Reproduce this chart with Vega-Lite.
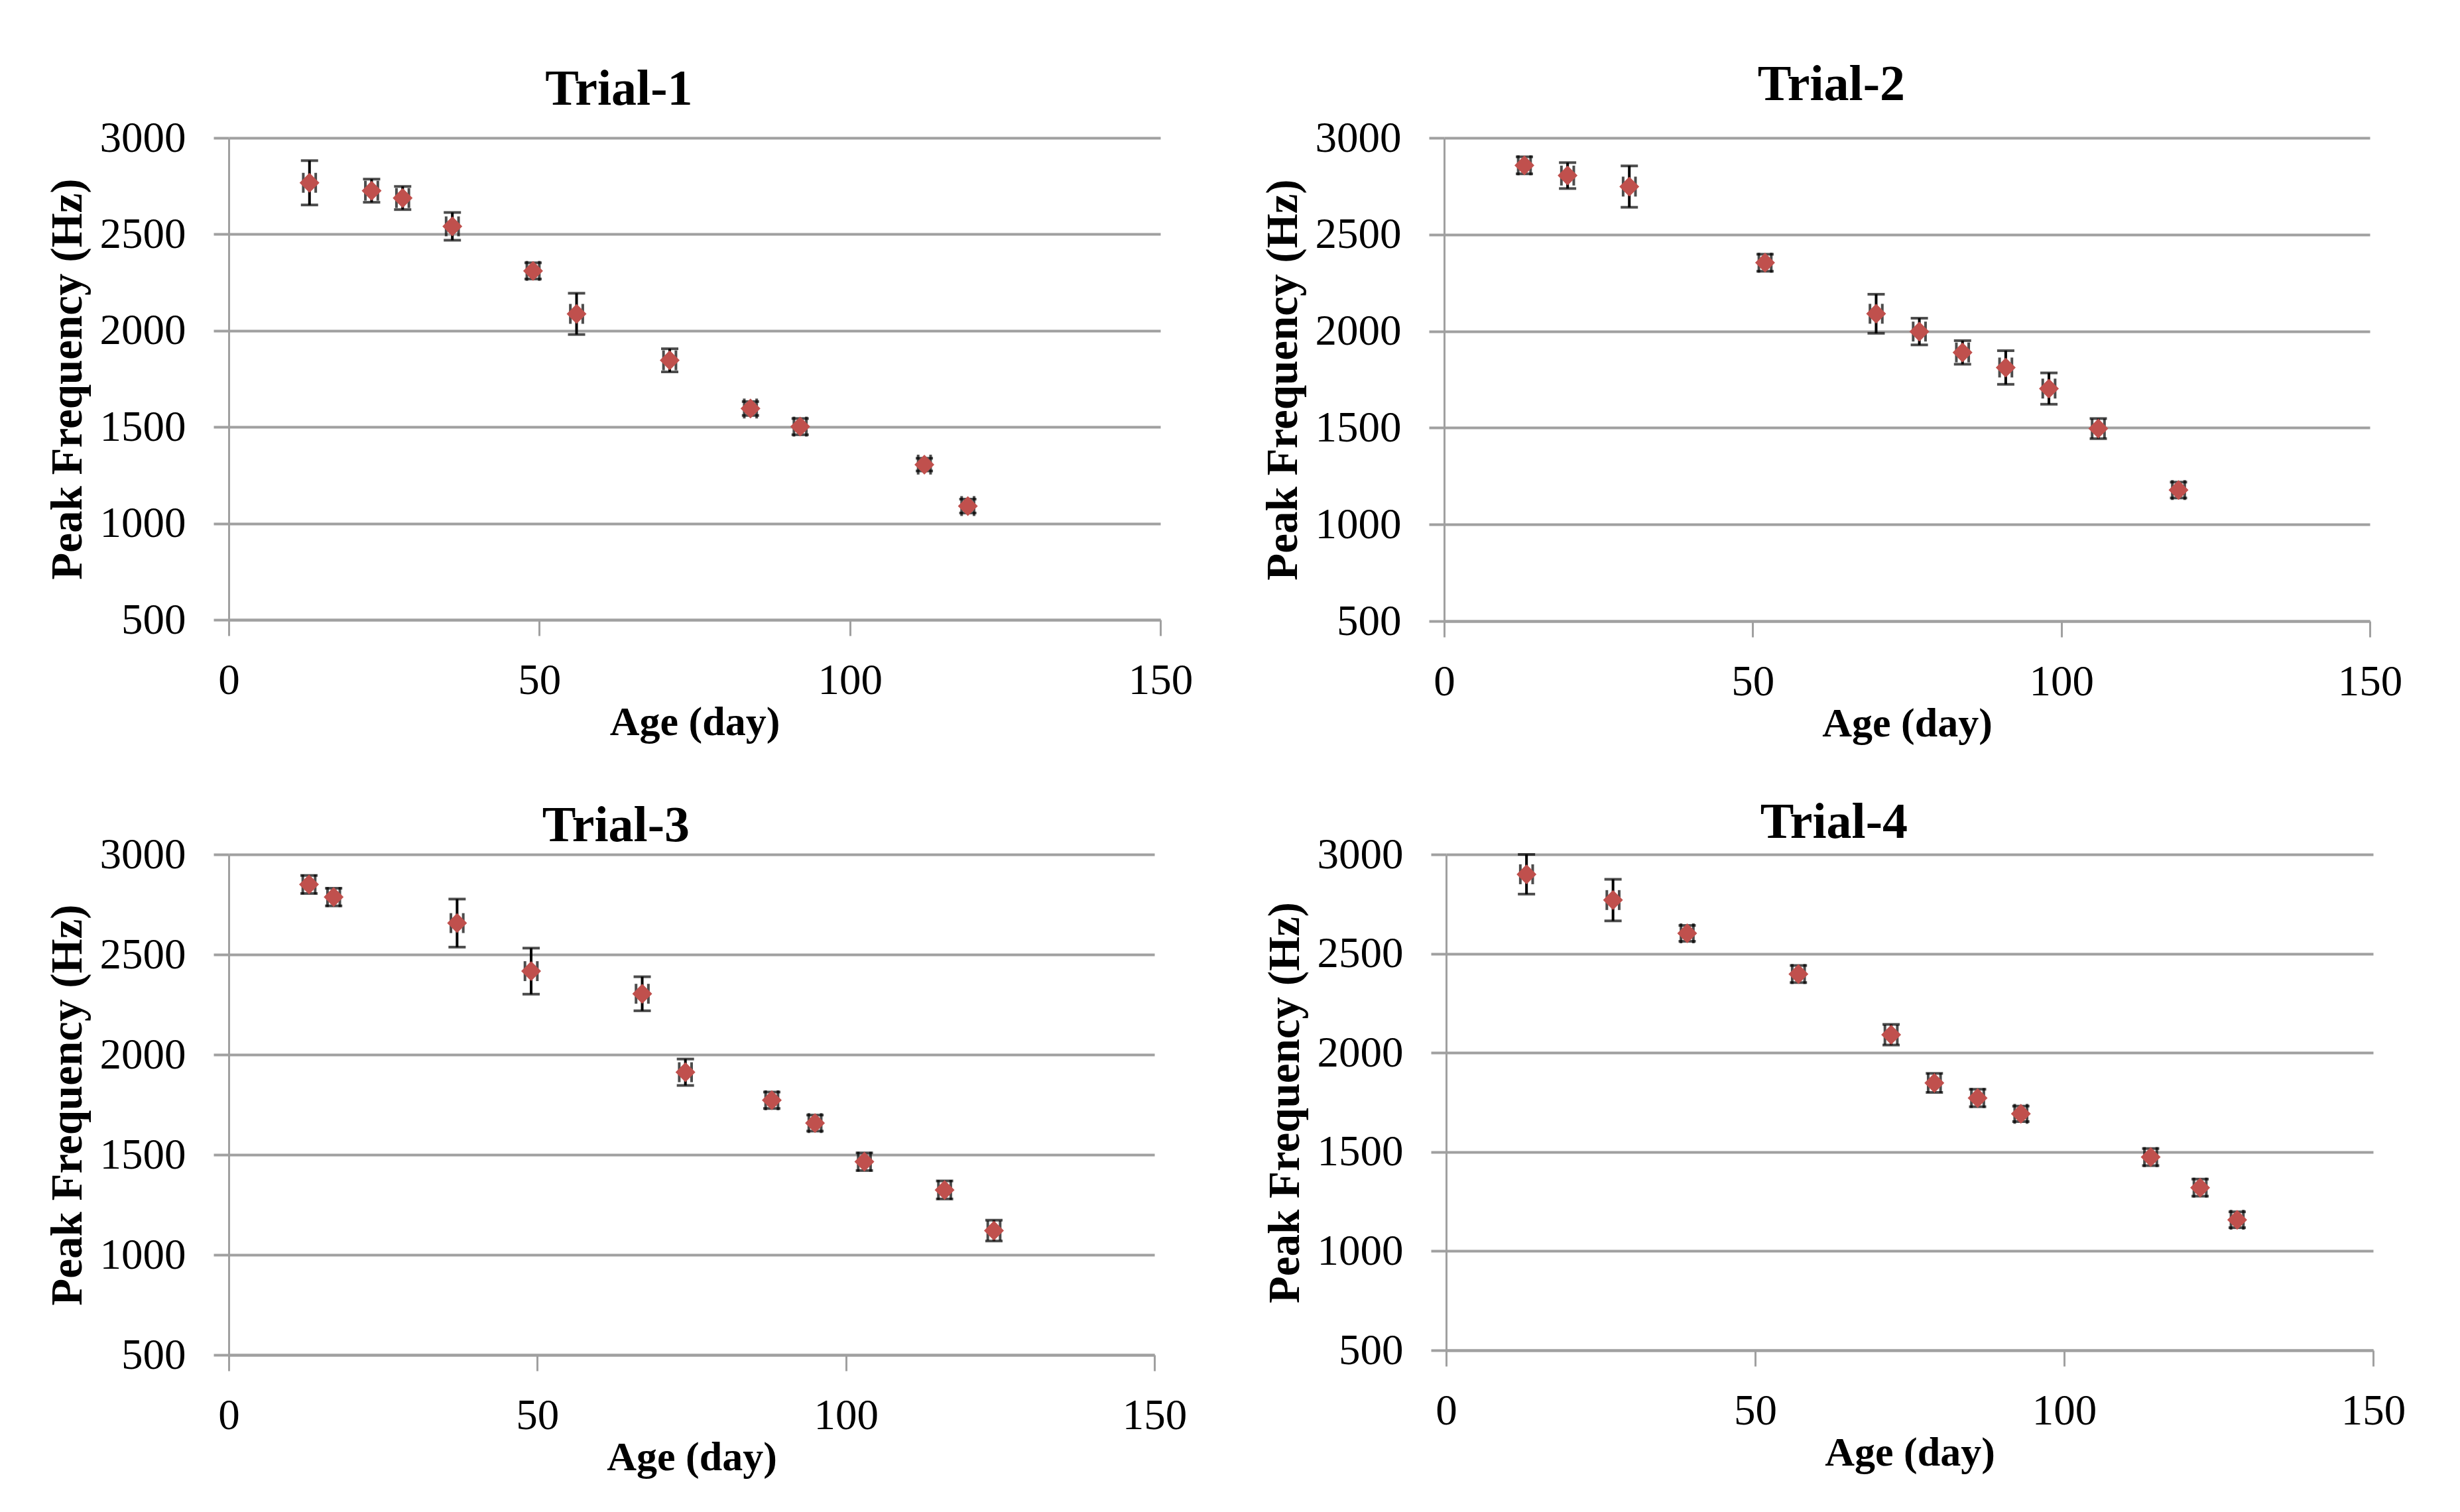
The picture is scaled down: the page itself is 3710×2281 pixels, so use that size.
{
  "$schema": "https://vega.github.io/schema/vega-lite/v6.json",
  "background": "white",
  "padding": {"left": 68, "top": 90, "right": 20, "bottom": 20},
  "config": {
    "font": "Liberation Serif",
    "view": {"stroke": null},
    "title": {"font": "Liberation Serif", "fontSize": 76, "fontWeight": "bold", "color": "black", "frame": "bounds", "anchor": "middle"},
    "axisX": {
      "grid": false, "labelOverlap": false, "labelFlush": false, "format": "d",
      "domainColor": "#a0a0a0", "domainWidth": 4, "tickColor": "#a0a0a0", "tickWidth": 3, "tickSize": 24,
      "labelPadding": 36, "labelFontSize": 65, "labelColor": "black",
      "titleFontSize": 62, "titleFontWeight": "bold", "titleColor": "black", "titlePadding": 0
    },
    "axisY": {
      "grid": true, "gridColor": "#a0a0a0", "gridWidth": 4, "labelOverlap": false, "labelFlush": false, "format": "d",
      "domainColor": "#a0a0a0", "domainWidth": 3, "tickColor": "#a0a0a0", "tickWidth": 4, "tickSize": 23,
      "labelPadding": 42, "labelFontSize": 65, "labelColor": "black",
      "titleFontSize": 67, "titleFontWeight": "bold", "titleColor": "black", "titlePadding": 14
    }
  },
  "data": {"values": [
    {"trial": "Trial-1", "age": 13, "freq": 2767, "err": 115, "xerr": 1},
    {"trial": "Trial-1", "age": 23, "freq": 2726, "err": 60, "xerr": 1},
    {"trial": "Trial-1", "age": 28, "freq": 2688, "err": 60, "xerr": 1},
    {"trial": "Trial-1", "age": 36, "freq": 2541, "err": 72, "xerr": 1},
    {"trial": "Trial-1", "age": 49, "freq": 2310, "err": 42, "xerr": 1},
    {"trial": "Trial-1", "age": 56, "freq": 2087, "err": 107, "xerr": 1},
    {"trial": "Trial-1", "age": 71, "freq": 1846, "err": 60, "xerr": 1},
    {"trial": "Trial-1", "age": 84, "freq": 1596, "err": 36, "xerr": 1},
    {"trial": "Trial-1", "age": 92, "freq": 1502, "err": 42, "xerr": 1},
    {"trial": "Trial-1", "age": 112, "freq": 1305, "err": 33, "xerr": 1},
    {"trial": "Trial-1", "age": 119, "freq": 1090, "err": 36, "xerr": 1},
    {"trial": "Trial-2", "age": 13, "freq": 2858, "err": 44, "xerr": 1},
    {"trial": "Trial-2", "age": 20, "freq": 2805, "err": 67, "xerr": 1},
    {"trial": "Trial-2", "age": 30, "freq": 2748, "err": 107, "xerr": 1},
    {"trial": "Trial-2", "age": 52, "freq": 2354, "err": 44, "xerr": 1},
    {"trial": "Trial-2", "age": 70, "freq": 2090, "err": 101, "xerr": 1},
    {"trial": "Trial-2", "age": 77, "freq": 1998, "err": 69, "xerr": 1},
    {"trial": "Trial-2", "age": 84, "freq": 1890, "err": 61, "xerr": 1},
    {"trial": "Trial-2", "age": 91, "freq": 1812, "err": 87, "xerr": 1},
    {"trial": "Trial-2", "age": 98, "freq": 1703, "err": 81, "xerr": 1},
    {"trial": "Trial-2", "age": 106, "freq": 1496, "err": 52, "xerr": 1},
    {"trial": "Trial-2", "age": 119, "freq": 1178, "err": 41, "xerr": 1},
    {"trial": "Trial-3", "age": 13, "freq": 2850, "err": 45, "xerr": 1},
    {"trial": "Trial-3", "age": 17, "freq": 2787, "err": 44, "xerr": 1},
    {"trial": "Trial-3", "age": 37, "freq": 2657, "err": 120, "xerr": 1},
    {"trial": "Trial-3", "age": 49, "freq": 2417, "err": 115, "xerr": 1},
    {"trial": "Trial-3", "age": 67, "freq": 2304, "err": 85, "xerr": 1},
    {"trial": "Trial-3", "age": 74, "freq": 1912, "err": 66, "xerr": 1},
    {"trial": "Trial-3", "age": 88, "freq": 1772, "err": 41, "xerr": 1},
    {"trial": "Trial-3", "age": 95, "freq": 1658, "err": 40, "xerr": 1},
    {"trial": "Trial-3", "age": 103, "freq": 1465, "err": 44, "xerr": 1},
    {"trial": "Trial-3", "age": 116, "freq": 1324, "err": 45, "xerr": 1},
    {"trial": "Trial-3", "age": 124, "freq": 1121, "err": 52, "xerr": 1},
    {"trial": "Trial-4", "age": 13, "freq": 2900, "err": 100, "xerr": 1},
    {"trial": "Trial-4", "age": 27, "freq": 2770, "err": 105, "xerr": 1},
    {"trial": "Trial-4", "age": 39, "freq": 2602, "err": 40, "xerr": 1},
    {"trial": "Trial-4", "age": 57, "freq": 2397, "err": 43, "xerr": 1},
    {"trial": "Trial-4", "age": 72, "freq": 2091, "err": 52, "xerr": 1},
    {"trial": "Trial-4", "age": 79, "freq": 1848, "err": 48, "xerr": 1},
    {"trial": "Trial-4", "age": 86, "freq": 1772, "err": 44, "xerr": 1},
    {"trial": "Trial-4", "age": 93, "freq": 1692, "err": 39, "xerr": 1},
    {"trial": "Trial-4", "age": 114, "freq": 1474, "err": 43, "xerr": 1},
    {"trial": "Trial-4", "age": 122, "freq": 1320, "err": 43, "xerr": 1},
    {"trial": "Trial-4", "age": 128, "freq": 1158, "err": 40, "xerr": 1}
  ]},
  "vconcat": [
    {
      "spacing": 102,
      "hconcat": [
        {
          "title": {"text": "Trial-1", "offset": 2},
          "width": 1405, "height": 727,
          "transform": [{"filter": "datum.trial == 'Trial-1'"}],
          "encoding": {
            "x": {"field": "age", "type": "quantitative", "scale": {"domain": [0, 150], "nice": false}, "title": "Age (day)", "axis": {"values": [0, 50, 100, 150]}},
            "y": {"field": "freq", "type": "quantitative", "scale": {"domain": [500, 3000], "nice": false, "zero": false}, "title": "Peak Frequency (Hz)", "axis": {"values": [500, 1000, 1500, 2000, 2500, 3000]}}
          },
          "layer": [
            {"mark": {"type": "errorbar", "color": "black", "thickness": 4, "ticks": {"size": 26, "strokeWidth": 4}}, "encoding": {"yError": {"field": "err"}}},
            {"mark": {"type": "errorbar", "color": "black", "thickness": 4, "ticks": {"size": 30, "strokeWidth": 4}}, "encoding": {"xError": {"field": "xerr"}}},
            {"mark": {"type": "point", "shape": "diamond", "filled": true, "opacity": 1, "color": "#C0504D", "size": 900}}
          ]
        },
        {
          "title": {"text": "Trial-2", "offset": 9},
          "width": 1396, "height": 729,
          "transform": [{"filter": "datum.trial == 'Trial-2'"}],
          "encoding": {
            "x": {"field": "age", "type": "quantitative", "scale": {"domain": [0, 150], "nice": false}, "title": "Age (day)", "axis": {"values": [0, 50, 100, 150]}},
            "y": {"field": "freq", "type": "quantitative", "scale": {"domain": [500, 3000], "nice": false, "zero": false}, "title": "Peak Frequency (Hz)", "axis": {"values": [500, 1000, 1500, 2000, 2500, 3000]}}
          },
          "layer": [
            {"mark": {"type": "errorbar", "color": "black", "thickness": 4, "ticks": {"size": 26, "strokeWidth": 4}}, "encoding": {"yError": {"field": "err"}}},
            {"mark": {"type": "errorbar", "color": "black", "thickness": 4, "ticks": {"size": 30, "strokeWidth": 4}}, "encoding": {"xError": {"field": "xerr"}}},
            {"mark": {"type": "point", "shape": "diamond", "filled": true, "opacity": 1, "color": "#C0504D", "size": 900}}
          ]
        }
      ]
    },
    {
      "spacing": 114,
      "hconcat": [
        {
          "title": {"text": "Trial-3", "offset": -28},
          "width": 1396, "height": 755,
          "transform": [{"filter": "datum.trial == 'Trial-3'"}],
          "encoding": {
            "x": {"field": "age", "type": "quantitative", "scale": {"domain": [0, 150], "nice": false}, "title": "Age (day)", "axis": {"values": [0, 50, 100, 150]}},
            "y": {"field": "freq", "type": "quantitative", "scale": {"domain": [500, 3000], "nice": false, "zero": false}, "title": "Peak Frequency (Hz)", "axis": {"values": [500, 1000, 1500, 2000, 2500, 3000]}}
          },
          "layer": [
            {"mark": {"type": "errorbar", "color": "black", "thickness": 4, "ticks": {"size": 26, "strokeWidth": 4}}, "encoding": {"yError": {"field": "err"}}},
            {"mark": {"type": "errorbar", "color": "black", "thickness": 4, "ticks": {"size": 30, "strokeWidth": 4}}, "encoding": {"xError": {"field": "xerr"}}},
            {"mark": {"type": "point", "shape": "diamond", "filled": true, "opacity": 1, "color": "#C0504D", "size": 900}}
          ]
        },
        {
          "title": {"text": "Trial-4", "offset": -23},
          "width": 1398, "height": 748,
          "transform": [{"filter": "datum.trial == 'Trial-4'"}],
          "encoding": {
            "x": {"field": "age", "type": "quantitative", "scale": {"domain": [0, 150], "nice": false}, "title": "Age (day)", "axis": {"values": [0, 50, 100, 150]}},
            "y": {"field": "freq", "type": "quantitative", "scale": {"domain": [500, 3000], "nice": false, "zero": false}, "title": "Peak Frequency (Hz)", "axis": {"values": [500, 1000, 1500, 2000, 2500, 3000]}}
          },
          "layer": [
            {"mark": {"type": "errorbar", "color": "black", "thickness": 4, "ticks": {"size": 26, "strokeWidth": 4}}, "encoding": {"yError": {"field": "err"}}},
            {"mark": {"type": "errorbar", "color": "black", "thickness": 4, "ticks": {"size": 30, "strokeWidth": 4}}, "encoding": {"xError": {"field": "xerr"}}},
            {"mark": {"type": "point", "shape": "diamond", "filled": true, "opacity": 1, "color": "#C0504D", "size": 900}}
          ]
        }
      ]
    }
  ],
  "spacing": 81
}
